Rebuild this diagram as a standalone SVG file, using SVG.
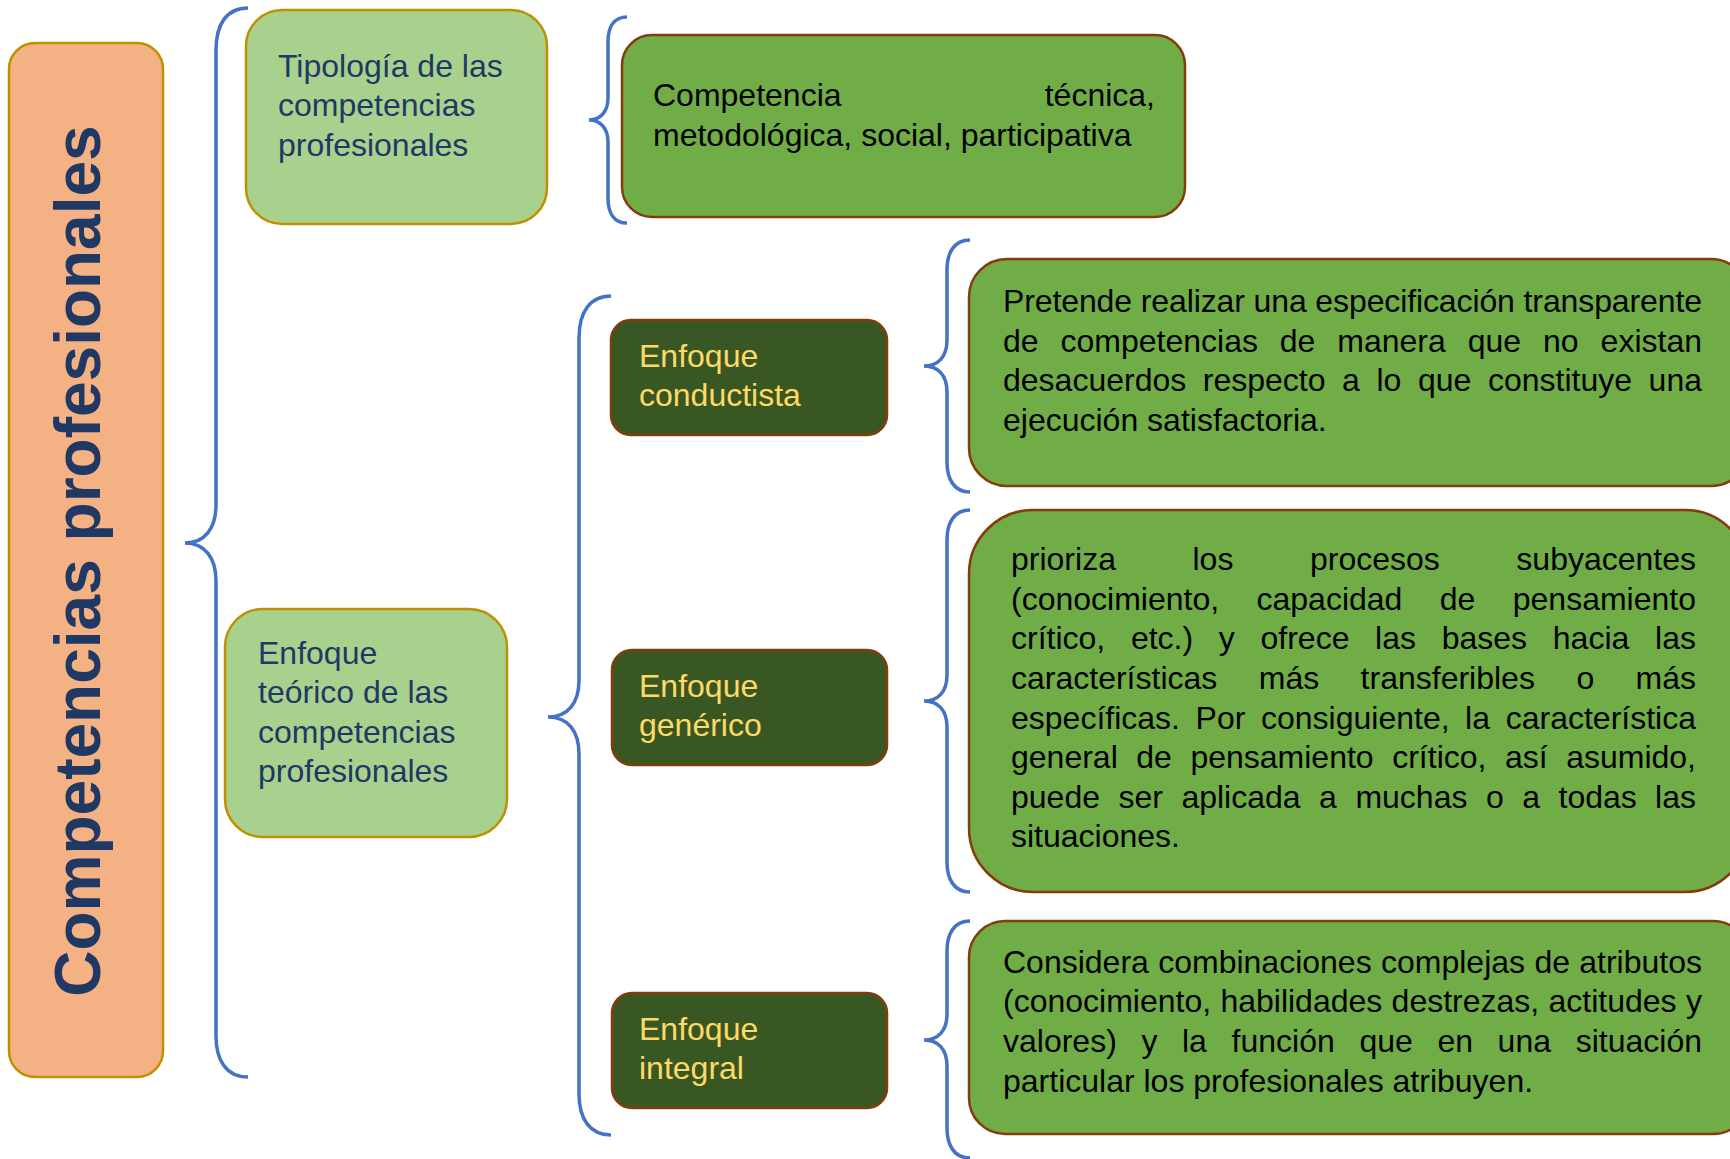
<svg xmlns="http://www.w3.org/2000/svg" width="1730" height="1159" viewBox="0 0 1730 1159">
<style>
.t{font-family:"Liberation Sans",Arial,sans-serif;font-size:32px}
.navy{fill:#1F3864}
.blk{fill:#000000}
.yel{fill:#FFD966}
.brace{fill:none;stroke:#4472C4;stroke-width:3.5;stroke-linecap:butt}
.orange{fill:#F4B183;stroke:#BF9000;stroke-width:2.5}
.lg{fill:#A9D18E;stroke:#BF9000;stroke-width:2.5}
.mg{fill:#70AD47;stroke:#843C0C;stroke-width:2.5}
.dg{fill:#385723;stroke:#843C0C;stroke-width:2.5}
</style>
<rect width="1730" height="1159" fill="#FFFFFF"/>
<g id="connectors">
<path class="brace" d="M248,8 C226,8 216,25 216,50 L216,505 C216,528 205,543 185,543 C205,543 216,558 216,581 L216,1036 C216,1060 226,1077 248,1077"/>
<path class="brace" d="M627,17 C614,17 608,27 608,42 L608,98 C608,112 600,120 589,120 C600,120 608,128 608,142 L608,198 C608,213 614,223 627,223"/>
<path class="brace" d="M611,296 C590,296 579,312 579,338 L579,680 C579,703 568,717 548,717 C568,717 579,731 579,754 L579,1094 C579,1119 590,1135 611,1135"/>
<path class="brace" d="M970,240 C954,240 947,253 947,270 L947,340 C947,357 938,366 924,366 C938,366 947,375 947,392 L947,462 C947,479 954,492 970,492"/>
<path class="brace" d="M970,510 C954,510 947,523 947,540 L947,675 C947,692 938,701 924,701 C938,701 947,710 947,727 L947,862 C947,879 954,892 970,892"/>
<path class="brace" d="M970,921 C954,921 947,934 947,951 L947,1014 C947,1031 938,1040 924,1040 C938,1040 947,1049 947,1066 L947,1128 C947,1145 954,1158 970,1158"/>
</g>
<g id="node-title">
<rect class="orange" x="9" y="43" width="154" height="1034" rx="26"/>
<text class="navy" transform="translate(100,561) rotate(-90)" text-anchor="middle" style="font-family:'Liberation Sans',Arial,sans-serif;font-size:64px;font-weight:bold">Competencias profesionales</text>
</g>
<g id="node-tipologia">
<rect class="lg" x="246" y="10" width="301" height="214" rx="36"/>
<text class="t navy"><tspan x="278" y="77">Tipología de las</tspan><tspan x="278" y="116">competencias</tspan><tspan x="278" y="156">profesionales</tspan></text>
</g>
<g id="node-competencia">
<rect class="mg" x="622" y="35" width="563" height="182" rx="30"/>
<text class="t blk"><tspan x="653" y="106">Competencia</tspan><tspan x="1155" y="106" text-anchor="end">técnica,</tspan><tspan x="653" y="146">metodológica, social, participativa</tspan></text>
</g>
<g id="node-teorico">
<rect class="lg" x="225" y="609" width="282" height="228" rx="38"/>
<text class="t navy"><tspan x="258" y="664">Enfoque</tspan><tspan x="258" y="703">teórico de las</tspan><tspan x="258" y="743">competencias</tspan><tspan x="258" y="782">profesionales</tspan></text>
</g>
<g id="node-conductista">
<rect class="dg" x="611" y="320" width="276" height="115" rx="20"/>
<text class="t yel"><tspan x="639" y="367">Enfoque</tspan><tspan x="639" y="406">conductista</tspan></text>
</g>
<g id="node-generico">
<rect class="dg" x="612" y="650" width="275" height="115" rx="20"/>
<text class="t yel"><tspan x="639" y="697">Enfoque</tspan><tspan x="639" y="736">genérico</tspan></text>
</g>
<g id="node-integral">
<rect class="dg" x="612" y="993" width="275" height="115" rx="20"/>
<text class="t yel"><tspan x="639" y="1040">Enfoque</tspan><tspan x="639" y="1079">integral</tspan></text>
</g>
<g id="node-pretende">
<rect class="mg" x="969" y="259" width="780" height="227" rx="38"/>
<text class="t blk" y="312"><tspan x="1003" textLength="699" lengthAdjust="spacing">Pretende realizar una especificación transparente</tspan></text>
<text class="t blk" y="352"><tspan x="1003">de</tspan><tspan x="1060.5">competencias</tspan><tspan x="1279.8">de</tspan><tspan x="1337.3">manera</tspan><tspan x="1467.7">que</tspan><tspan x="1543">no</tspan><tspan x="1702" text-anchor="end">existan</tspan></text>
<text class="t blk" y="391"><tspan x="1003">desacuerdos</tspan><tspan x="1202.8">respecto</tspan><tspan x="1342.1">a</tspan><tspan x="1376.5">lo</tspan><tspan x="1418">que</tspan><tspan x="1488">constituye</tspan><tspan x="1702" text-anchor="end">una</tspan></text>
<text class="t blk" x="1003" y="431">ejecución satisfactoria.</text>
</g>
<g id="node-prioriza">
<rect class="mg" x="969" y="510" width="780" height="382" rx="64"/>
<text class="t blk" y="570"><tspan x="1011">prioriza</tspan><tspan x="1192.5">los</tspan><tspan x="1310">procesos</tspan><tspan x="1696" text-anchor="end">subyacentes</tspan></text>
<text class="t blk" y="610"><tspan x="1011">(conocimiento,</tspan><tspan x="1256.5">capacidad</tspan><tspan x="1439.8">de</tspan><tspan x="1696" text-anchor="end">pensamiento</tspan></text>
<text class="t blk" y="649"><tspan x="1011">crítico,</tspan><tspan x="1130.9">etc.)</tspan><tspan x="1218.8">y</tspan><tspan x="1260.5">ofrece</tspan><tspan x="1375.1">las</tspan><tspan x="1441.7">bases</tspan><tspan x="1552.8">hacia</tspan><tspan x="1696" text-anchor="end">las</tspan></text>
<text class="t blk" y="689"><tspan x="1011">características</tspan><tspan x="1258.8">más</tspan><tspan x="1360.6">transferibles</tspan><tspan x="1576.4">o</tspan><tspan x="1696" text-anchor="end">más</tspan></text>
<text class="t blk" y="729"><tspan x="1011">específicas.</tspan><tspan x="1195.6">Por</tspan><tspan x="1261">consiguiente,</tspan><tspan x="1465.1">la</tspan><tspan x="1696" text-anchor="end">característica</tspan></text>
<text class="t blk" y="768"><tspan x="1011">general</tspan><tspan x="1136.3">de</tspan><tspan x="1190.4">pensamiento</tspan><tspan x="1392.2">crítico,</tspan><tspan x="1505">así</tspan><tspan x="1696" text-anchor="end">asumido,</tspan></text>
<text class="t blk" y="808"><tspan x="1011">puede</tspan><tspan x="1118.5">ser</tspan><tspan x="1181.4">aplicada</tspan><tspan x="1319.1">a</tspan><tspan x="1355.4">muchas</tspan><tspan x="1485.9">o</tspan><tspan x="1522.2">a</tspan><tspan x="1558.5">todas</tspan><tspan x="1696" text-anchor="end">las</tspan></text>
<text class="t blk" x="1011" y="847">situaciones.</text>
</g>
<g id="node-considera">
<rect class="mg" x="969" y="921" width="780" height="213" rx="36"/>
<text class="t blk" y="973"><tspan x="1003">Considera</tspan><tspan x="1158.2">combinaciones</tspan><tspan x="1381">complejas</tspan><tspan x="1534.4">de</tspan><tspan x="1702" text-anchor="end">atributos</tspan></text>
<text class="t blk" y="1012"><tspan x="1003">(conocimiento,</tspan><tspan x="1220.4">habilidades</tspan><tspan x="1391.6">destrezas,</tspan><tspan x="1548.5">actitudes</tspan><tspan x="1702" text-anchor="end">y</tspan></text>
<text class="t blk" y="1052"><tspan x="1003">valores)</tspan><tspan x="1141.4">y</tspan><tspan x="1182">la</tspan><tspan x="1231.6">función</tspan><tspan x="1359.4">que</tspan><tspan x="1437.4">en</tspan><tspan x="1497.6">una</tspan><tspan x="1702" text-anchor="end">situación</tspan></text>
<text class="t blk" x="1003" y="1092">particular los profesionales atribuyen.</text>
</g>
</svg>
